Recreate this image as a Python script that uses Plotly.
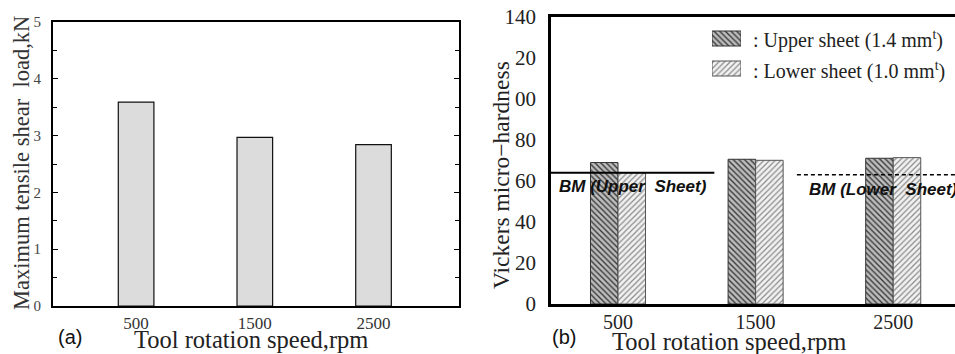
import plotly.graph_objects as go

# ---------------- data ----------------
speeds = [500, 1500, 2500]
speed_labels = ["500", "1500", "2500"]

shear_load_kN = [3.59, 2.97, 2.84]

hv_upper = [69.0, 70.6, 71.1]
hv_lower = [64.0, 70.1, 71.4]

bm_upper = 64.0
bm_lower = 63.0

left_yticks = [0, 1, 2, 3, 4, 5]
right_yticks = [0, 20, 40, 60, 80, 100, 120, 140]
right_yticktext = ["0", "20", "40", "60", "80", "00", "20", "140"]

legend_names = [": Upper sheet (1.4 mm<sup>t</sup>)", ": Lower sheet (1.0 mm<sup>t</sup>)"]

# ---------------- helpers ----------------
W, H = 955, 354
def px(x):
    return x / W
def py(y):
    return 1 - y / H

SERIF = "Liberation Serif"
SANS = "Liberation Sans"

UP_PAT = dict(shape="\\", fgcolor="#3a3a3a", bgcolor="#bdbdbd", size=4, solidity=0.35, fillmode="replace")
LO_PAT = dict(shape="/", fgcolor="#8a8a8a", bgcolor="#f2f2f2", size=4, solidity=0.3, fillmode="replace")

fig = go.Figure()

# (a) tensile shear load
fig.add_trace(go.Bar(
    x=speeds, y=shear_load_kN, width=300, offset=-150,
    marker=dict(color="#dcdcdc", line=dict(color="#111", width=1.2)),
    xaxis="x", yaxis="y", showlegend=False))

# (b) hardness bars
fig.add_trace(go.Bar(
    x=speeds, y=hv_upper, width=200, offset=-200,
    marker=dict(color="#bdbdbd", pattern=UP_PAT, line=dict(color="#333", width=1)),
    xaxis="x2", yaxis="y2", showlegend=False))
fig.add_trace(go.Bar(
    x=speeds, y=hv_lower, width=200, offset=0,
    marker=dict(color="#f2f2f2", pattern=LO_PAT, line=dict(color="#555", width=1)),
    xaxis="x2", yaxis="y2", showlegend=False))

# BM reference lines
fig.add_trace(go.Scatter(
    x=[0, 1200], y=[bm_upper, bm_upper], mode="lines",
    line=dict(color="black", width=2), xaxis="x2", yaxis="y2", showlegend=False))
fig.add_trace(go.Scatter(
    x=[1800, 3000], y=[bm_lower, bm_lower], mode="lines",
    line=dict(color="black", width=1.5, dash="4px,3px"), xaxis="x2", yaxis="y2", showlegend=False))

# custom legend swatches
fig.add_trace(go.Bar(
    x=[1], y=[1], orientation="h", width=0.5, offset=-0.25,
    marker=dict(color="#bdbdbd", pattern=UP_PAT, line=dict(color="#333", width=1)),
    xaxis="x3", yaxis="y3", showlegend=False))
fig.add_trace(go.Bar(
    x=[1], y=[0], orientation="h", width=0.5, offset=-0.25,
    marker=dict(color="#f2f2f2", pattern=LO_PAT, line=dict(color="#555", width=1)),
    xaxis="x3", yaxis="y3", showlegend=False))

axis_common = dict(showgrid=False, zeroline=False, showline=True, linecolor="black", automargin=False)

fig.update_layout(
    width=W, height=H,
    margin=dict(l=0, r=0, t=0, b=0, autoexpand=False),
    paper_bgcolor="white", plot_bgcolor="white",
    barmode="overlay",
    xaxis=dict(axis_common, domain=[px(53), px(459)], range=[-200, 3220],
               tickvals=speeds, ticktext=speed_labels, ticks="", mirror=True, linewidth=2,
               ticklabelstandoff=1,
               tickfont=dict(family=SERIF, size=17, color="#333"), anchor="y"),
    yaxis=dict(axis_common, domain=[py(306), py(22)], range=[0, 5],
               tickvals=left_yticks, ticks="inside", ticklen=5, tickcolor="black",
               mirror="allticks", linewidth=2,
               minor=dict(dtick=0.5, ticks="inside", ticklen=4, tickcolor="black"),
               ticklabelstandoff=7,
               tickfont=dict(family=SERIF, size=15, color="#444"), anchor="x"),
    xaxis2=dict(axis_common, domain=[px(551), 1.0], range=[13, 2949],
                tickvals=speeds, ticktext=speed_labels, ticks="", mirror=True, linewidth=2.5,
                ticklabelstandoff=-2,
                tickfont=dict(family=SERIF, size=20, color="#222"), anchor="y2"),
    yaxis2=dict(axis_common, domain=[py(304), py(17)], range=[0, 140],
                tickvals=right_yticks, ticktext=right_yticktext, ticks="",
                mirror=False, linewidth=2.5, ticklabelstandoff=8,
                tickfont=dict(family=SERIF, size=21, color="#222"), anchor="x2"),
    xaxis3=dict(domain=[px(712), px(741)], range=[0, 1], visible=False, anchor="y3", automargin=False),
    yaxis3=dict(domain=[py(83.5), py(23.5)], range=[-0.5, 1.5], visible=False, anchor="x3", automargin=False),
)

ann = []
# axis titles
ann.append(dict(text="Maximum tensile shear  load,kN", x=px(21), y=py(163), textangle=-90,
                font=dict(family=SERIF, size=22.5, color="#333")))
ann.append(dict(text="Tool rotation speed,rpm", x=px(251), y=py(339.5),
                font=dict(family=SERIF, size=24.5, color="#222")))
ann.append(dict(text="Vickers micro\u2212hardness", x=px(501), y=py(175), textangle=-90,
                font=dict(family=SERIF, size=23.5, color="#222")))
ann.append(dict(text="Tool rotation speed,rpm", x=px(729), y=py(341.5),
                font=dict(family=SERIF, size=24.5, color="#222")))
# panel labels
ann.append(dict(text="(a)", x=px(70), y=py(337), font=dict(family=SANS, size=20, color="#111")))
ann.append(dict(text="(b)", x=px(564), y=py(337), font=dict(family=SANS, size=20, color="#111")))
# BM labels
ann.append(dict(text="<b><i>BM (Upper  Sheet)</i></b>", x=px(557), y=py(186), xanchor="left",
                font=dict(family=SANS, size=17, color="#111")))
ann.append(dict(text="<b><i>BM (Lower  Sheet)</i></b>", x=px(807), y=py(189), xanchor="left",
                font=dict(family=SANS, size=17, color="#111")))
# legend texts
ann.append(dict(text=legend_names[0], x=px(751), y=py(40), xanchor="left",
                font=dict(family=SERIF, size=20, color="#222")))
ann.append(dict(text=legend_names[1], x=px(751), y=py(70), xanchor="left",
                font=dict(family=SERIF, size=20, color="#222")))

for a in ann:
    a.setdefault("xanchor", "center")
    a.update(xref="paper", yref="paper", yanchor="middle", showarrow=False)
fig.update_layout(annotations=ann)

fig.write_html("out.html")
